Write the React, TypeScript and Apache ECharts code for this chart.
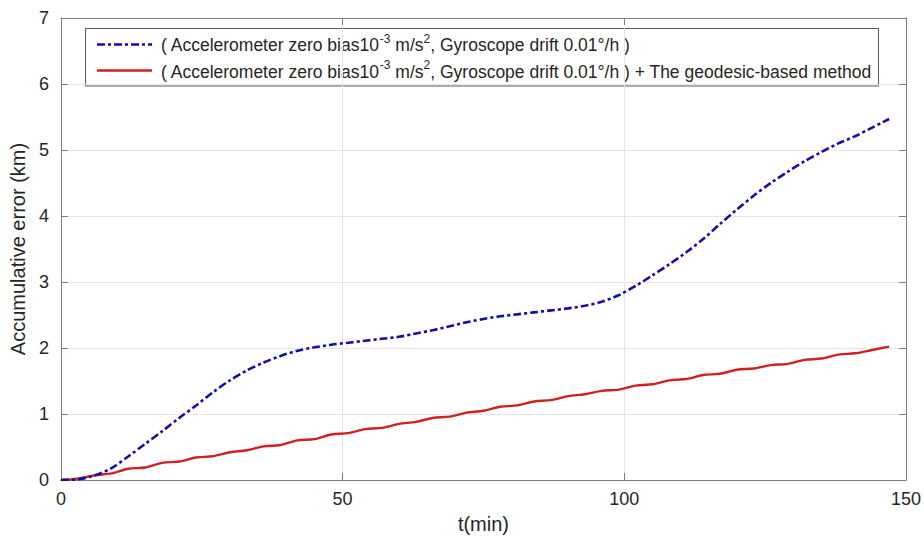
import React, { useEffect, useRef } from "react";
import * as echarts from "echarts";

const timeMin = [0, 3, 6, 9, 12, 15, 18, 21, 24, 27, 30, 33, 36, 39, 42, 45, 48, 51, 54, 57, 60, 63, 66, 69, 72, 75, 78, 81, 84, 87, 90, 93, 96, 99, 102, 105, 108, 111, 114, 117, 120, 123, 126, 129, 132, 135, 138, 141, 144, 147];

const baselineError = [0, 0.01, 0.07, 0.18, 0.36, 0.55, 0.74, 0.94, 1.13, 1.33, 1.51, 1.66, 1.78, 1.88, 1.96, 2.01, 2.05, 2.08, 2.11, 2.14, 2.17, 2.22, 2.27, 2.33, 2.39, 2.44, 2.48, 2.51, 2.54, 2.57, 2.6, 2.64, 2.7, 2.8, 2.94, 3.1, 3.27, 3.45, 3.65, 3.88, 4.1, 4.31, 4.5, 4.67, 4.83, 4.97, 5.1, 5.21, 5.34, 5.47];

const geodesicError = [0, 0.02, 0.07, 0.1, 0.17, 0.19, 0.26, 0.28, 0.34, 0.36, 0.42, 0.45, 0.51, 0.53, 0.6, 0.62, 0.69, 0.71, 0.77, 0.79, 0.85, 0.88, 0.94, 0.96, 1.02, 1.05, 1.11, 1.13, 1.19, 1.21, 1.27, 1.3, 1.35, 1.37, 1.43, 1.45, 1.51, 1.53, 1.59, 1.61, 1.67, 1.69, 1.74, 1.76, 1.82, 1.84, 1.9, 1.92, 1.97, 2.02];

const xTicks = { min: 0, max: 150, interval: 50 };
const yTicks = { min: 0, max: 7, interval: 1 };

const legendLine1 = "( Accelerometer zero bias10{sup|-3} m/s{sup|2}, Gyroscope drift 0.01°/h )";
const legendLine2 = "( Accelerometer zero bias10{sup|-3} m/s{sup|2}, Gyroscope drift 0.01°/h ) + The geodesic-based method";

const FONT = "'Liberation Sans', Arial, Helvetica, sans-serif";
const TEXT = "#262626";
const AXIS = "#7f7f7f";
const GRID = "#e6e6e6";
const BLUE = "#1010a6";
const RED = "#d02020";

export default function App() {
  const ref = useRef<HTMLDivElement>(null);
  useEffect(() => {
    if (!ref.current) return;
    const chart = echarts.init(ref.current, undefined, { renderer: "svg" });
    const pairs = (vals: number[]) => timeMin.map((t, i) => [t, vals[i]]);
    const richStyle = {
      sup: { fontSize: 12, fontFamily: FONT, fill: TEXT, verticalAlign: "top", lineHeight: 12 },
    };
    const axisCommon = {
      type: "value" as const,
      axisLine: { show: true, onZero: false, lineStyle: { color: AXIS, width: 1 } },
      axisTick: { show: true, inside: true, length: 7, lineStyle: { color: AXIS } },
    };
    chart.setOption({
      animation: false,
      backgroundColor: "#ffffff",
      grid: { left: 58, right: 17, top: 18, bottom: 57, containLabel: false },
      xAxis: [
        {
          ...axisCommon,
          position: "bottom",
          ...xTicks,
          axisLabel: { fontSize: 18, color: TEXT, fontFamily: FONT, margin: 10 },
          splitLine: { show: true, lineStyle: { color: GRID, width: 1 } },
          name: "t(min)",
          nameLocation: "middle",
          nameGap: 34,
          nameTextStyle: { fontSize: 20, color: TEXT, fontFamily: FONT },
        },
        {
          ...axisCommon,
          position: "top",
          ...xTicks,
          axisLabel: { show: false },
          splitLine: { show: false },
        },
      ],
      yAxis: [
        {
          ...axisCommon,
          position: "left",
          ...yTicks,
          axisLabel: { fontSize: 18, color: TEXT, fontFamily: FONT, margin: 12 },
          splitLine: { show: true, lineStyle: { color: GRID, width: 1 } },
          name: "Accumulative error (km)",
          nameLocation: "middle",
          nameGap: 28,
          nameRotate: 90,
          nameTextStyle: { fontSize: 20, color: TEXT, fontFamily: FONT },
        },
        {
          ...axisCommon,
          position: "right",
          ...yTicks,
          axisLabel: { show: false },
          splitLine: { show: false },
        },
      ],
      series: [
        {
          type: "line",
          name: "baseline",
          data: pairs(baselineError),
          showSymbol: false,
          symbol: "none",
          smooth: 0.3,
          lineStyle: { color: BLUE, width: 2.6, type: [8, 3, 3, 3] },
          z: 3,
        },
        {
          type: "line",
          name: "geodesic",
          data: pairs(geodesicError),
          showSymbol: false,
          symbol: "none",
          smooth: 0.3,
          lineStyle: { color: RED, width: 2.4, type: "solid" },
          z: 2,
        },
      ],
      graphic: [
        {
          type: "group",
          z: 100,
          children: [
            {
              type: "rect",
              shape: { x: 85.5, y: 28.5, width: 793, height: 57.5 },
              style: { fill: "#ffffff", stroke: "#595959", lineWidth: 1 },
            },
            {
              type: "line",
              shape: { x1: 97, y1: 44.5, x2: 152, y2: 44.5 },
              style: { stroke: BLUE, lineWidth: 2.6, lineDash: [8, 3, 3, 3] },
            },
            {
              type: "line",
              shape: { x1: 97, y1: 70.5, x2: 152, y2: 70.5 },
              style: { stroke: RED, lineWidth: 2.4 },
            },
            {
              type: "text",
              x: 161,
              y: 45,
              style: {
                text: legendLine1,
                fontSize: 17.5,
                fontFamily: FONT,
                fill: TEXT,
                lineHeight: 25,
                verticalAlign: "middle",
                align: "left",
                rich: richStyle,
              },
            },
            {
              type: "text",
              x: 161,
              y: 71.5,
              style: {
                text: legendLine2,
                fontSize: 17.5,
                fontFamily: FONT,
                fill: TEXT,
                lineHeight: 25,
                verticalAlign: "middle",
                align: "left",
                rich: richStyle,
              },
            },
          ],
        },
      ],
    });
    return () => chart.dispose();
  }, []);
  return (
    <div
      ref={ref}
      style={{ position: "fixed", left: 0, top: 0, width: 924, height: 539, background: "#fff" }}
    />
  );
}
